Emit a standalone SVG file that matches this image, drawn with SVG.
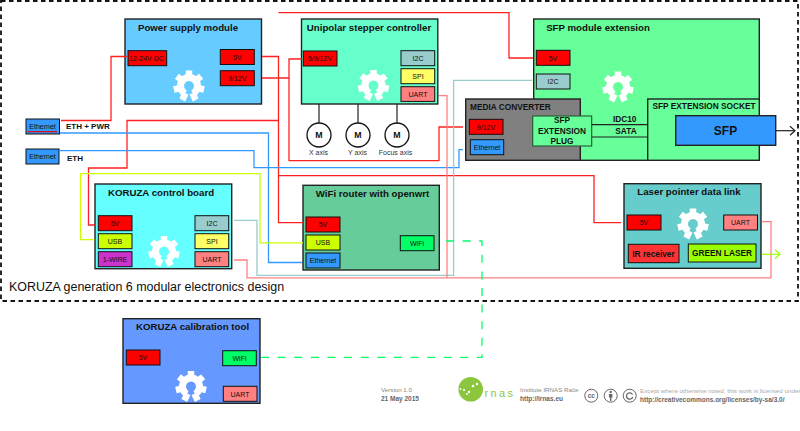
<svg xmlns="http://www.w3.org/2000/svg" xmlns:xlink="http://www.w3.org/1999/xlink" width="800" height="431" viewBox="0 0 800 431">
<style>
text{font-family:"Liberation Sans",Arial,sans-serif;fill:#111}
.box{stroke:#222;stroke-width:1.4}
.port{stroke:#111;stroke-width:1}
.pt{font-size:7px;text-anchor:middle}
.title{font-size:9.7px;font-weight:bold;text-anchor:middle}
.lb{font-size:8.3px;font-weight:bold}
.mid{text-anchor:middle}
.c{fill:none;stroke-width:1.3}
.red{stroke:#ff2020}.blue{stroke:#3399ff}.teal{stroke:#99cccc}.pink{stroke:#ff8080}.yel{stroke:#ccff00}
.wifi{stroke:#00ff66;stroke-dasharray:8 8.6}
.dk{fill:none;stroke:#222;stroke-width:1.2}
.r{fill:#ff0000}.b{fill:#3399ff}.tl{fill:#99cccc}.s{fill:#ffff66}.u{fill:#ff8080}.y{fill:#ccff00}.g{fill:#00ff66}
.m{fill:#fff;stroke:#111;stroke-width:1.3}
.mt{font-size:8.8px;font-weight:bold;text-anchor:middle}
.ml{font-size:7px;text-anchor:middle;fill:#333}
.foot{font-size:6.2px;fill:#888}
.footb{font-size:6.5px;font-weight:bold;fill:#666}
.cc{fill:#fff;stroke:#666;stroke-width:1}
</style>
<defs>
<g id="gear" fill="none" stroke="#fff">
<path stroke-width="7" d="M-4 7.5A8.5 8.5 0 1 1 4 7.5"/>
<path stroke-width="6.5" d="M0-8V-15.5M6.3-5L12.1-9.7M7.8 1.8L15.1 3.5M3.5 7.2L6.7 14M-6.3-5L-12.1-9.7M-7.8 1.8L-15.1 3.5M-3.5 7.2L-6.7 14"/>
</g>
<marker id="arrD" markerWidth="8" markerHeight="10" refX="6.5" refY="5" orient="auto" markerUnits="userSpaceOnUse"><path d="M1.5 0.5L6.5 5L1.5 9.5" fill="none" stroke="#222" stroke-width="1.2"/></marker>
<marker id="arrG" markerWidth="8" markerHeight="10" refX="6.5" refY="5" orient="auto" markerUnits="userSpaceOnUse"><path d="M1.5 0.5L6.5 5L1.5 9.5" fill="none" stroke="#99ff00" stroke-width="1.2"/></marker>
</defs>
<rect id="frame" x="1" y="1" width="797" height="300" fill="none" stroke="#111" stroke-width="1.8" stroke-dasharray="4.5 3.5"/>
<g id="eth1"><rect class="port b" x="26" y="119" width="33.5" height="15"/><text class="pt" x="42.5" y="129">Ethernet</text><path d="M27.5 131.700H57" stroke="#e00" stroke-width="1.2"/></g>
<g id="eth2"><rect class="port b" x="26" y="149" width="33" height="15"/><text class="pt" x="42.5" y="158.500">Ethernet</text></g>
<text x="66" y="129" font-size="8" font-weight="bold">ETH + PWR</text>
<text x="67" y="161" font-size="8" font-weight="bold">ETH</text>
<g id="power">
<rect class="box" x="125" y="19" width="136.5" height="85" fill="#66ccff"/>
<use xlink:href="#gear" href="#gear" x="189" y="86"/>
<text class="title" x="188" y="31">Power supply module</text>
<rect class="port r" x="128" y="50.700" width="38.700" height="15"/><text class="pt" x="146.500" y="60.500">12-24V DC</text>
<rect class="port r" x="220.300" y="49.500" width="34" height="15"/><text class="pt" x="237.300" y="59.500">5V</text>
<rect class="port r" x="220.300" y="70.700" width="34" height="15"/><text class="pt" x="237.300" y="81">9/12V</text>
</g>
<g id="stepper">
<rect class="box" x="301.500" y="19" width="136.300" height="85" fill="#66ffcc"/>
<use xlink:href="#gear" href="#gear" x="373.500" y="85.500"/>
<text class="title" x="369" y="31">Unipolar stepper controller</text>
<rect class="port r" x="303.300" y="51" width="33.700" height="15"/><text class="pt" x="320" y="61">5/9/12V</text>
<rect class="port tl" x="401" y="50.700" width="33.700" height="15"/><text class="pt" x="418" y="61">I2C</text>
<rect class="port s" x="401" y="68.700" width="33.700" height="15"/><text class="pt" x="418" y="79">SPI</text>
<rect class="port u" x="401" y="86.700" width="33.700" height="14.700"/><text class="pt" x="418" y="97">UART</text>
</g>
<g id="motor-x"><circle class="m" cx="319" cy="135" r="12"/><text class="mt" x="319" y="138.200">M</text><text class="ml" x="318.500" y="155">X axis</text></g>
<g id="motor-y"><circle class="m" cx="358" cy="135" r="12"/><text class="mt" x="358" y="138.200">M</text><text class="ml" x="357.500" y="155">Y axis</text></g>
<g id="motor-focus"><circle class="m" cx="397" cy="135" r="12"/><text class="mt" x="397" y="138.200">M</text><text class="ml" x="395.500" y="155">Focus axis</text></g>
<g id="sfp-module">
<rect class="box" x="533.700" y="19" width="225.600" height="141.300" fill="#66ff99"/>
<use xlink:href="#gear" href="#gear" x="618" y="87"/>
<text class="title" x="598" y="30.500">SFP module extension</text>
<rect class="port r" x="536.300" y="50.300" width="33.700" height="15"/><text class="pt" x="553" y="60.500">5V</text>
<rect class="port tl" x="536.300" y="74" width="33.700" height="15"/><text class="pt" x="553" y="84">I2C</text>
<text class="lb mid" x="624.700" y="121.500">IDC10</text>
<text class="lb mid" x="626" y="134">SATA</text>
</g>
<g id="media">
<rect class="box" x="465.700" y="99" width="114.600" height="61.300" fill="#808080"/>
<text class="lb" x="470" y="110">MEDIA CONVERTER</text>
<rect class="port r" x="469.300" y="119.300" width="33.700" height="15"/><text class="pt" x="486" y="129.500">9/12V</text>
<rect class="port b" x="470.300" y="139.700" width="33.400" height="15"/><text class="pt" x="487" y="150">Ethernet</text>
</g>
<g id="plug">
<rect x="532.700" y="116" width="59" height="30" fill="#66ff99" stroke="#225533" stroke-width="1.1"/>
<text class="lb mid" x="562" y="123">SFP</text>
<text class="lb mid" x="562" y="133.500">EXTENSION</text>
<text class="lb mid" x="562" y="144">PLUG</text>
</g>
<g id="socket">
<rect class="box" x="647.700" y="99" width="111.600" height="61.300" fill="#66ff99"/>
<text class="lb" x="652.500" y="108.500">SFP EXTENSION SOCKET</text>
</g>
<g id="sfp">
<rect class="box" x="675.700" y="115.700" width="100" height="29.600" fill="#3399ff"/>
<text x="725.500" y="135" font-size="12" font-weight="bold" text-anchor="middle">SFP</text>
</g>
<g id="control">
<rect class="box" x="95" y="184" width="136.700" height="84.700" fill="#66ffff"/>
<use xlink:href="#gear" href="#gear" x="164" y="251.500"/>
<text class="title" x="161" y="195.500">KORUZA control board</text>
<rect class="port r" x="98.300" y="215.700" width="33.700" height="15"/><text class="pt" x="115" y="225.500">5V</text>
<rect class="port y" x="98.300" y="233.700" width="33.700" height="15"/><text class="pt" x="115" y="244">USB</text>
<rect class="port" fill="#cc33cc" x="98.300" y="251.700" width="33.700" height="15"/><text class="pt" x="115" y="261.500">1-WIRE</text>
<rect class="port tl" x="195" y="215.700" width="33.700" height="15"/><text class="pt" x="212" y="225.500">I2C</text>
<rect class="port s" x="195" y="233.700" width="33.700" height="15"/><text class="pt" x="212" y="243.500">SPI</text>
<rect class="port u" x="195" y="251.700" width="33.700" height="15"/><text class="pt" x="212" y="261.500">UART</text>
</g>
<g id="wifi-router">
<rect class="box" x="303" y="185.300" width="136.300" height="84.700" fill="#66cc99"/>
<text class="title" x="372.500" y="197">WiFi router with openwrt</text>
<rect class="port r" x="306" y="217" width="34" height="15"/><text class="pt" x="323" y="227">5V</text>
<rect class="port y" x="306" y="235" width="34" height="15"/><text class="pt" x="323" y="245">USB</text>
<rect class="port b" x="306" y="253" width="34" height="15"/><text class="pt" x="323" y="263">Ethernet</text>
<rect class="port g" x="400.300" y="235.700" width="33.700" height="15"/><text class="pt" x="417" y="246">WiFi</text>
</g>
<g id="laser">
<rect class="box" x="624" y="183.700" width="137" height="84.600" fill="#66cccc"/>
<use xlink:href="#gear" href="#gear" x="693" y="224"/>
<text class="title" x="689" y="195">Laser pointer data link</text>
<rect class="port r" x="627" y="215" width="34" height="15"/><text class="pt" x="644" y="225">5V</text>
<rect class="port u" x="723.700" y="215" width="33.800" height="15"/><text class="pt" x="740.500" y="225">UART</text>
<rect class="port" fill="#ff3333" x="628.300" y="244.300" width="50.700" height="18.400"/><text class="lb mid" x="653.500" y="256.500">IR receiver</text>
<rect class="port" fill="#99ff00" x="688.300" y="244" width="67.700" height="18"/><text class="lb mid" x="722" y="256">GREEN LASER</text>
</g>
<g id="calibration">
<rect class="box" x="123" y="318.700" width="137" height="84.600" fill="#6699ff"/>
<use xlink:href="#gear" href="#gear" x="191" y="386.500"/>
<text class="title" x="192.500" y="330">KORUZA calibration tool</text>
<rect class="port r" x="126.300" y="350" width="33.700" height="15"/><text class="pt" x="143" y="360">5V</text>
<rect class="port g" x="222.700" y="350.700" width="33.600" height="15"/><text class="pt" x="239.500" y="361">WiFi</text>
<rect class="port u" x="223.300" y="386.300" width="33.700" height="15"/><text class="pt" x="240" y="396.500">UART</text>
</g>
<g id="connectors">
<path class="c red" d="M61 120.500H111V56.500H127"/>
<path class="c red" d="M262 56.500H278.500V222.700H303"/>
<path class="c red" d="M278.500 12.700H509V58H533"/>
<path class="c red" d="M278.500 120.500H127V168H88.500V225H95"/>
<path class="c red" d="M278.500 175.700H594V222.700H621"/>
<path class="c red" d="M262 78H289V59H302"/>
<path class="c red" d="M289 78V160.700H439V127H463"/>
<path class="c blue" d="M60 133H268.500V262.500H302"/>
<path class="c blue" d="M60 150.700H254V167.600H459V149.700H463"/>
<path class="c yel" d="M94.500 239.700H80.500V173.700H260V242.800H303"/>
<path class="c teal" d="M234 220.400H257V275.400H453.600V80.400H532"/>
<path class="c pink" d="M234 260H247V277.800H771V221.700H761.700"/>
<path class="c pink" d="M439 95.700H447V277.800"/>
<path class="c wifi" d="M446 241H482V357.300H261"/>
<path fill="none" stroke="#99ff00" stroke-width="1.200" d="M761.700 254.300H780" marker-end="url(#arrG)"/>
<path class="dk" d="M775.700 130.700H795" marker-end="url(#arrD)"/>
<path class="dk" d="M319 104V123M358 104V123M397 104V123"/>
<path class="dk" d="M591.700 124.700H647.700M591.700 137H647.700"/>
</g>
<text x="9" y="291" font-size="12.450">KORUZA generation 6 modular electronics design</text>
<text class="foot" x="381" y="392">Version 1.0</text>
<text class="footb" x="381" y="401">21 May 2015</text>
<g id="irnas-logo">
<circle cx="470.700" cy="389.300" r="12.300" fill="#8cc63f"/>
<g fill="#fff"><circle cx="464" cy="390" r="1.100"/><circle cx="469" cy="392" r="1.200"/><circle cx="473" cy="386" r="1.300"/><circle cx="477" cy="384" r="1.200"/><circle cx="460.500" cy="389" r="0.900"/><circle cx="467" cy="394" r="0.900"/></g>
<path d="M479.500 384V397" stroke="#8cc63f" stroke-width="1.500"/>
<text x="484.500" y="397" font-size="11" letter-spacing="2.400" style="fill:#8cc63f">rnas</text>
</g>
<text class="foot" x="520" y="392">Institute IRNAS Rače</text>
<text class="footb" x="520" y="401">http://irnas.eu</text>
<g id="cc-icons">
<circle class="cc" cx="591.300" cy="395.700" r="6.500"/><text x="591.300" y="398" font-size="6.500" font-weight="bold" text-anchor="middle" style="fill:#666">cc</text>
<circle class="cc" cx="610.700" cy="395.700" r="6.500"/><circle cx="610.700" cy="392" r="1.200" fill="#666"/><path d="M609 394h3.400v3.500h-1v3.500h-1.400v-3.500h-1z" fill="#666"/>
<circle class="cc" cx="629.700" cy="395.700" r="6.500"/><path d="M632.500 394.500A3.200 3.200 0 1 0 632.700 397" fill="none" stroke="#666" stroke-width="1.300"/>
</g>
<text x="640" y="393" font-size="6.250" style="fill:#aaa">Except where otherwise noted, this work is licensed under</text>
<text class="footb" x="640" y="402">http://creativecommons.org/licenses/by-sa/3.0/</text>
</svg>
